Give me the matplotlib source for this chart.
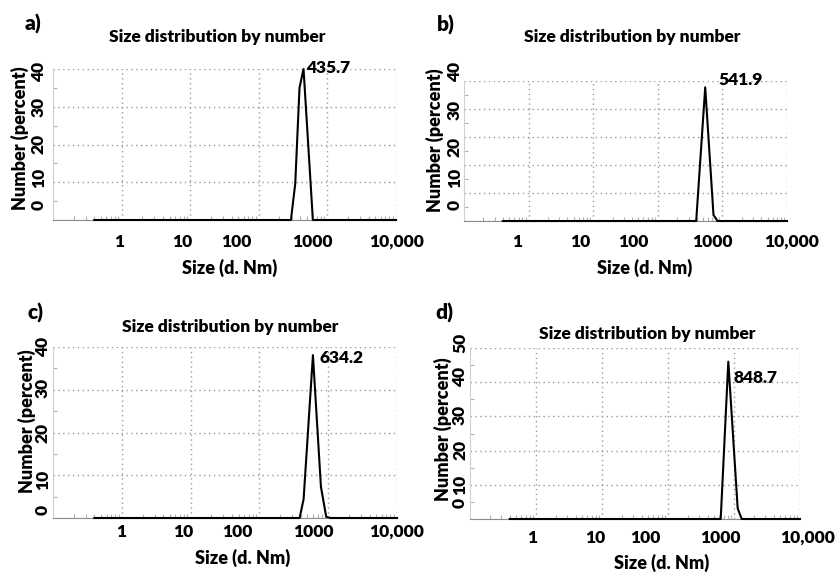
import matplotlib.pyplot as plt
from matplotlib.ticker import LogLocator, MultipleLocator, NullFormatter, FixedLocator

plt.rcParams['font.family'] = ['Lato', 'DejaVu Sans']
plt.rcParams['font.weight'] = 'heavy'

W, H = 835, 574

# values (size in nm, number in percent)
size_a = [0.4, 294, 340, 392, 449, 614, 10000]
num_a = [0, 0, 9.7, 35, 40, 0, 0]
size_b = [0.4, 393, 542, 728, 839, 10000]
num_b = [0, 0, 38.2, 1.7, 0, 0]
size_c = [0.4, 384, 439, 600, 784, 935, 1080, 10000]
num_c = [0, 0, 4.4, 38.1, 7.3, 0.3, 0, 0]
size_d = [0.4, 629, 820, 1137, 1308, 10000]
num_d = [0, 0, 46, 3.1, 0, 0]

peak_labels = ["435.7", "541.9", "634.2", "848.7"]
panel_letters = ["a)", "b)", "c)", "d)"]
x_tick_labels = ["1", "10", "100", "1000", "10,000"]
y_tick_labels_40 = ["0", "10", "20", "30", "40"]
y_tick_labels_50 = ["0", "10", "20", "30", "40", "50"]
y_max = [40, 40, 40, 50]
y_grid_step = [10, 8, 10, 10]

title = "Size distribution by number"
x_title = "Size (d. Nm)"
y_title = "Number (percent)"

# layout in pixels of the 835x574 picture
layout = [
    dict(box=(53, 69, 396, 220), letter=(25, 24), title=(217, 37),
         xt=[119, 182, 236, 312, 397], xt_y=242, yt=[205, 178, 144, 107, 72], yt_x=39,
         xl=(230, 268), yl=(20, 138), peak=(306, 68)),
    dict(box=(464, 81, 787, 221), letter=(437, 25), title=(632, 37),
         xt=[517, 580, 633, 712, 792], xt_y=242, yt=[205, 178, 147, 110, 72], yt_x=455,
         xl=(645, 268), yl=(435, 140), peak=(718, 80)),
    dict(box=(53, 347, 397, 518), letter=(27, 313), title=(230, 327),
         xt=[121, 183, 237, 313, 397], xt_y=532, yt=[510, 480, 433, 388, 347], yt_x=43,
         xl=(243, 558), yl=(27, 421), peak=(319, 358)),
    dict(box=(470, 348, 800, 519), letter=(435, 313), title=(647, 334),
         xt=[532, 595, 645, 720, 808], xt_y=538, yt=[503, 485, 450, 415, 377, 343], yt_x=460,
         xl=(662, 563), yl=(443, 429), peak=(733, 378)),
]


def fx(x):
    return x / W


def fy(y):
    return 1 - y / H


fig = plt.figure(figsize=(W / 100, H / 100), dpi=100)

sizes = [size_a, size_b, size_c, size_d]
nums = [num_a, num_b, num_c, num_d]
ytl = [y_tick_labels_40, y_tick_labels_40, y_tick_labels_40, y_tick_labels_50]

for i in range(4):
    L = layout[i]
    x0, y0, x1, y1 = L['box']
    ax = fig.add_axes([fx(x0), fy(y1), (x1 - x0) / W, (y1 - y0) / H])
    ax.plot(sizes[i], nums[i], color='black', lw=1.5, zorder=3, clip_on=False)
    ax.set_xscale('log')
    ax.set_xlim(0.1, 10000)
    ax.set_ylim(0, y_max[i])

    ax.xaxis.set_major_locator(FixedLocator([1, 10, 100, 1000, 10000]))
    ax.xaxis.set_minor_locator(LogLocator(base=10, subs=range(2, 10)))
    ax.xaxis.set_minor_formatter(NullFormatter())
    ax.yaxis.set_major_locator(MultipleLocator(y_grid_step[i]))
    ax.yaxis.set_minor_locator(MultipleLocator(y_grid_step[i] / 2))
    ax.tick_params(which='both', labelbottom=False, labelleft=False)
    ax.tick_params(which='major', length=0)
    ax.tick_params(which='minor', length=3, direction='in', color='#b0b0b0', width=0.8)
    ax.grid(True, which='major', color='#9a9a9a', linestyle=(0, (1, 2.5)), lw=1.0)
    for s in ['top', 'right']:
        ax.spines[s].set_visible(False)
    ax.spines['bottom'].set_color('#8c8c8c')
    ax.spines['left'].set_color('#d0d0d0')
    ax.spines['left'].set_linewidth(0.8)

    fig.text(fx(L['letter'][0]), fy(L['letter'][1]), panel_letters[i],
             fontsize=15, ha='left', va='center')
    fig.text(fx(L['title'][0]), fy(L['title'][1]), title,
             fontsize=12.5, ha='center', va='center')
    for lab, px in zip(x_tick_labels, L['xt']):
        fig.text(fx(px), fy(L['xt_y']), lab, fontsize=12.5, ha='center', va='center')
    for lab, py in zip(ytl[i], L['yt']):
        fig.text(fx(L['yt_x']), fy(py), lab, fontsize=12.5, ha='center', va='center',
                 rotation=90)
    fig.text(fx(L['xl'][0]), fy(L['xl'][1]), x_title, fontsize=13,
             ha='center', va='center')
    fig.text(fx(L['yl'][0]), fy(L['yl'][1]), y_title, fontsize=13,
             ha='center', va='center', rotation=90)
    fig.text(fx(L['peak'][0]), fy(L['peak'][1]), peak_labels[i], fontsize=12.5,
             ha='left', va='center')

fig.savefig('out.png', dpi=100)
